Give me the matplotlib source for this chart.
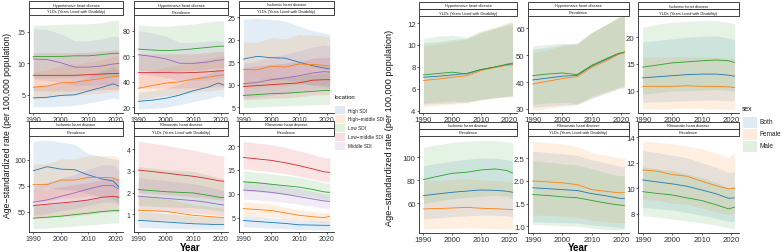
import matplotlib
matplotlib.use("Agg")
import matplotlib.pyplot as plt
from matplotlib.patches import Rectangle

plt.rcParams['font.family'] = ['Liberation Sans', 'DejaVu Sans']

W, H = 782, 253

years = [1990, 1995, 2000, 2005, 2010, 2015, 2019, 2021]
locations = ["High SDI", "High\u2212middle SDI", "Low SDI", "Low\u2212middle SDI", "Middle SDI"]
sexes = ["Both", "Female", "Male"]
loc_colors = ["#1f77b4", "#ff7f0e", "#2ca02c", "#d62728", "#9467bd"]
sex_colors = ["#1f77b4", "#ff7f0e", "#2ca02c"]

causes = ["Hypertensive heart disease", "Hypertensive heart disease", "Ischemic heart disease",
          "Ischemic heart disease", "Rheumatic heart disease", "Rheumatic heart disease"]
measures = ["YLDs (Years Lived with Disability)", "Prevalence", "YLDs (Years Lived with Disability)",
            "Prevalence", "YLDs (Years Lived with Disability)", "Prevalence"]

# ---------------- location group (High, High-middle, Low, Low-middle, Middle) ----------------
loc_hhd_yld_val = [[4.5, 4.6, 4.9, 5.0, 5.6, 6.2, 6.75, 6.4],
                   [6.2, 6.4, 6.9, 7.0, 7.3, 7.6, 7.9, 8.0],
                   [11.1, 11.1, 11.1, 11.2, 11.2, 11.4, 11.6, 11.6],
                   [8.1, 8.1, 8.1, 8.1, 8.2, 8.3, 8.4, 8.4],
                   [10.7, 10.6, 10.1, 9.4, 9.4, 9.6, 9.9, 10.0]]
loc_hhd_yld_lo = [[3.1, 3.1, 3.2, 3.3, 3.7, 4.1, 4.5, 4.3],
                  [4.3, 4.5, 4.8, 4.9, 5.1, 5.3, 5.5, 5.6],
                  [7.7, 7.7, 7.7, 7.8, 7.8, 7.9, 8.0, 8.0],
                  [5.6, 5.6, 5.6, 5.6, 5.7, 5.8, 5.9, 5.9],
                  [7.4, 7.3, 7.0, 6.5, 6.5, 6.6, 6.8, 6.9]]
loc_hhd_yld_hi = [[6.4, 6.5, 6.9, 7.1, 7.9, 8.8, 9.5, 9.0],
                  [8.7, 9.0, 9.7, 9.8, 10.2, 10.6, 11.1, 11.2],
                  [16.1, 16.1, 16.2, 16.3, 16.3, 16.5, 16.8, 16.8],
                  [11.7, 11.7, 11.7, 11.7, 11.8, 12.0, 12.1, 12.1],
                  [15.5, 15.4, 14.7, 13.6, 13.6, 13.9, 14.3, 14.2]]

loc_hhd_prev_val = [[24.6, 25.5, 27.0, 29.5, 33.0, 35.5, 39.0, 37.5],
                    [34.9, 37.0, 39.0, 40.0, 42.2, 43.5, 45.0, 45.4],
                    [65.8, 65.0, 64.5, 65.0, 66.0, 67.0, 68.0, 68.0],
                    [47.2, 47.2, 47.2, 47.0, 47.3, 47.8, 48.5, 48.7],
                    [61.3, 60.0, 58.0, 54.6, 54.5, 55.5, 57.0, 57.4]]
loc_hhd_prev_lo = [[18.5, 19.0, 20.0, 22.0, 24.5, 26.5, 29.0, 28.0],
                   [26.0, 27.5, 29.0, 30.0, 31.5, 32.5, 33.5, 34.0],
                   [49.0, 48.5, 48.0, 48.5, 49.0, 50.0, 51.0, 51.0],
                   [35.0, 35.0, 35.0, 35.0, 35.0, 35.5, 36.0, 36.0],
                   [46.0, 45.0, 43.5, 41.0, 41.0, 41.5, 42.5, 43.0]]
loc_hhd_prev_hi = [[32.0, 33.0, 35.0, 38.0, 43.0, 46.0, 50.0, 49.0],
                   [46.0, 49.0, 52.0, 53.0, 56.0, 58.0, 60.0, 60.5],
                   [84.7, 84.0, 83.5, 84.5, 85.5, 87.0, 88.0, 88.1],
                   [62.0, 62.0, 62.0, 62.0, 62.0, 63.0, 64.0, 64.0],
                   [80.2, 78.5, 76.0, 71.0, 71.0, 72.0, 72.5, 72.0]]

loc_ihd_yld_val = [[15.7, 16.3, 16.0, 15.9, 15.0, 14.2, 13.7, 13.5],
                   [13.4, 13.3, 14.1, 13.9, 14.6, 14.5, 14.3, 14.1],
                   [7.6, 7.8, 8.0, 8.1, 8.3, 8.5, 8.7, 8.7],
                   [9.6, 9.8, 10.0, 10.2, 10.4, 11.0, 11.1, 11.1],
                   [10.2, 10.5, 11.1, 11.5, 12.0, 12.6, 12.9, 12.8]]
loc_ihd_yld_lo = [[11.0, 11.4, 11.2, 11.1, 10.5, 9.9, 9.6, 9.4],
                  [9.3, 9.2, 9.8, 9.6, 10.1, 10.0, 9.9, 9.8],
                  [4.9, 5.0, 5.2, 5.3, 5.4, 5.5, 5.6, 5.6],
                  [6.7, 6.8, 7.0, 7.1, 7.3, 7.7, 7.8, 7.8],
                  [7.1, 7.3, 7.7, 8.0, 8.4, 8.8, 9.0, 8.9]]
loc_ihd_yld_hi = [[24.5, 24.8, 24.5, 24.2, 23.0, 22.0, 21.5, 21.2],
                  [19.5, 19.4, 20.5, 20.2, 21.2, 21.0, 20.8, 20.5],
                  [11.0, 11.3, 11.6, 11.7, 12.0, 12.3, 12.6, 12.6],
                  [13.9, 14.2, 14.5, 14.8, 15.1, 15.9, 16.1, 16.1],
                  [14.8, 15.3, 16.2, 16.8, 17.5, 18.4, 18.8, 18.6]]

loc_ihd_prev_val = [[89.4, 93.3, 91.0, 90.4, 85.3, 81.4, 79.5, 74.0],
                    [76.0, 76.0, 80.4, 80.4, 83.0, 83.0, 82.4, 80.4],
                    [43.6, 44.5, 45.5, 47.0, 48.4, 50.0, 50.8, 51.0],
                    [55.8, 57.0, 58.3, 59.5, 61.2, 63.8, 64.7, 63.8],
                    [59.0, 61.2, 64.7, 68.0, 71.8, 75.0, 75.0, 71.8]]
loc_ihd_prev_lo = [[70.0, 73.0, 71.0, 71.0, 67.0, 64.0, 62.0, 58.0],
                   [60.0, 60.0, 63.0, 63.0, 65.0, 65.0, 65.0, 63.0],
                   [33.3, 34.0, 35.0, 36.0, 37.0, 38.0, 39.0, 39.0],
                   [43.0, 44.0, 45.0, 46.0, 47.0, 49.0, 50.0, 49.0],
                   [46.0, 48.0, 51.0, 53.0, 56.0, 59.0, 59.0, 56.0]]
loc_ihd_prev_hi = [[118.0, 119.0, 117.0, 115.0, 106.0, 103.0, 101.0, 100.0],
                   [96.0, 96.0, 101.0, 101.0, 104.0, 104.0, 104.0, 102.0],
                   [56.0, 57.0, 58.0, 60.0, 62.0, 64.0, 65.0, 65.0],
                   [71.0, 72.0, 74.0, 76.0, 78.0, 81.0, 82.0, 81.0],
                   [75.0, 78.0, 82.0, 86.0, 91.0, 95.0, 95.0, 91.0]]

loc_rhd_yld_val = [[0.72, 0.68, 0.64, 0.60, 0.56, 0.54, 0.52, 0.52],
                   [1.18, 1.16, 1.13, 1.04, 0.95, 0.90, 0.86, 0.84],
                   [2.14, 2.09, 2.04, 2.01, 1.98, 1.88, 1.79, 1.76],
                   [3.04, 2.97, 2.90, 2.82, 2.75, 2.65, 2.55, 2.52],
                   [1.83, 1.78, 1.73, 1.68, 1.63, 1.55, 1.46, 1.43]]
loc_rhd_yld_lo = [[0.40, 0.38, 0.36, 0.34, 0.32, 0.31, 0.30, 0.30],
                  [0.75, 0.74, 0.72, 0.66, 0.60, 0.57, 0.55, 0.54],
                  [1.40, 1.37, 1.34, 1.32, 1.30, 1.23, 1.17, 1.15],
                  [2.00, 1.95, 1.90, 1.85, 1.80, 1.74, 1.67, 1.65],
                  [1.20, 1.17, 1.13, 1.10, 1.07, 1.01, 0.95, 0.93]]
loc_rhd_yld_hi = [[1.15, 1.10, 1.03, 0.97, 0.91, 0.88, 0.85, 0.85],
                  [1.80, 1.77, 1.72, 1.59, 1.45, 1.38, 1.32, 1.29],
                  [3.20, 3.13, 3.06, 3.01, 2.97, 2.82, 2.69, 2.64],
                  [4.38, 4.28, 4.18, 4.06, 3.96, 3.82, 3.70, 3.69],
                  [2.70, 2.62, 2.55, 2.48, 2.40, 2.28, 2.15, 2.10]]

loc_rhd_prev_val = [[4.4, 4.2, 4.0, 3.8, 3.5, 3.45, 3.4, 3.4],
                    [6.9, 6.7, 6.5, 6.0, 5.5, 5.2, 5.0, 5.3],
                    [12.5, 12.3, 12.0, 11.7, 11.4, 10.9, 10.4, 10.3],
                    [17.6, 17.3, 17.0, 16.5, 15.9, 15.2, 14.6, 14.5],
                    [10.8, 10.6, 10.3, 9.9, 9.4, 8.9, 8.5, 8.4]]
loc_rhd_prev_lo = [[3.1, 2.95, 2.8, 2.7, 2.5, 2.45, 2.4, 2.4],
                   [5.5, 5.35, 5.2, 4.8, 4.4, 4.15, 4.0, 4.2],
                   [10.6, 10.4, 10.2, 9.9, 9.7, 9.3, 8.8, 8.7],
                   [15.2, 14.9, 14.6, 14.2, 13.7, 13.1, 12.6, 12.5],
                   [8.9, 8.7, 8.5, 8.2, 7.8, 7.4, 7.0, 6.9]]
loc_rhd_prev_hi = [[5.5, 5.3, 5.0, 4.8, 4.4, 4.35, 4.3, 4.3],
                   [8.3, 8.1, 7.8, 7.2, 6.6, 6.3, 6.0, 6.4],
                   [14.8, 14.5, 14.2, 13.8, 13.5, 12.9, 12.3, 12.2],
                   [21.0, 20.6, 20.3, 19.7, 19.0, 18.2, 17.5, 17.6],
                   [12.8, 12.6, 12.2, 11.7, 11.1, 10.5, 10.0, 9.9]]

# ---------------- sex group (Both, Female, Male) ----------------
sex_hhd_yld_val = [[7.06, 7.15, 7.27, 7.40, 7.76, 8.00, 8.20, 8.27],
                   [6.76, 6.90, 7.06, 7.20, 7.67, 7.95, 8.15, 8.18],
                   [7.27, 7.40, 7.52, 7.36, 7.76, 8.00, 8.25, 8.36]]
sex_hhd_yld_lo = [[4.60, 4.65, 4.70, 4.80, 5.00, 5.20, 5.30, 5.35],
                  [4.40, 4.50, 4.60, 4.70, 5.00, 5.15, 5.25, 5.30],
                  [4.70, 4.80, 4.90, 4.80, 5.05, 5.20, 5.35, 5.40]]
sex_hhd_yld_hi = [[10.2, 10.3, 10.5, 10.6, 11.1, 11.5, 11.8, 11.9],
                  [9.9, 10.1, 10.3, 10.5, 11.2, 11.6, 11.9, 12.0],
                  [10.6, 10.8, 10.9, 10.7, 11.3, 11.6, 12.0, 12.2]]

sex_hhd_prev_val = [[40.8, 41.5, 42.2, 42.5, 46.0, 48.5, 50.5, 51.0],
                    [39.3, 40.3, 41.3, 42.0, 45.5, 48.0, 50.3, 51.0],
                    [42.4, 43.0, 43.4, 42.8, 46.3, 48.8, 50.7, 51.2]]
sex_hhd_prev_lo = [[30.6, 31.0, 31.5, 31.7, 34.0, 36.0, 37.5, 38.0],
                   [29.5, 30.2, 31.0, 31.5, 34.0, 36.0, 37.7, 38.2],
                   [31.8, 32.2, 32.5, 32.0, 34.7, 36.6, 38.0, 38.4]]
sex_hhd_prev_hi = [[52.3, 53.0, 54.0, 54.5, 58.5, 61.5, 64.0, 64.5],
                   [51.0, 52.0, 53.5, 54.5, 58.5, 61.5, 64.5, 65.0],
                   [53.5, 54.0, 54.5, 54.0, 58.5, 61.5, 64.0, 64.5]]

sex_ihd_yld_val = [[12.4, 12.6, 12.8, 13.0, 13.1, 13.1, 12.9, 12.7],
                   [10.8, 10.8, 10.8, 10.9, 10.8, 10.8, 10.7, 10.6],
                   [14.4, 14.8, 15.2, 15.4, 15.6, 15.75, 15.6, 15.3]]
sex_ihd_yld_lo = [[7.8, 7.9, 8.0, 8.1, 8.2, 8.2, 8.1, 8.0],
                  [6.6, 6.6, 6.6, 6.7, 6.6, 6.6, 6.5, 6.5],
                  [9.4, 9.6, 9.9, 10.0, 10.1, 10.2, 10.1, 9.9]]
sex_ihd_yld_hi = [[19.1, 19.4, 19.7, 20.0, 20.2, 20.2, 19.9, 19.6],
                  [16.3, 16.3, 16.3, 16.4, 16.3, 16.3, 16.1, 16.0],
                  [21.9, 22.5, 22.8, 23.0, 23.1, 23.1, 22.8, 22.5]]

sex_ihd_prev_val = [[66.7, 68.2, 69.6, 70.6, 71.6, 71.3, 70.5, 69.6],
                    [55.1, 55.5, 55.9, 56.5, 55.7, 55.3, 54.8, 54.5],
                    [80.6, 83.5, 86.1, 87.0, 89.0, 89.9, 88.5, 86.4]]
sex_ihd_prev_lo = [[46.4, 47.4, 48.4, 49.1, 49.8, 49.6, 49.0, 48.4],
                   [37.7, 38.0, 38.3, 38.7, 38.2, 37.9, 37.5, 37.3],
                   [60.0, 62.0, 64.0, 65.0, 66.0, 67.0, 66.0, 64.0]]
sex_ihd_prev_hi = [[92.8, 94.8, 96.8, 98.2, 99.6, 99.2, 98.1, 96.8],
                   [79.5, 80.0, 80.7, 81.5, 80.4, 79.8, 79.1, 78.7],
                   [108.7, 111.0, 113.0, 114.0, 114.5, 114.5, 113.5, 112.5]]

sex_rhd_yld_val = [[1.85, 1.83, 1.81, 1.79, 1.72, 1.67, 1.62, 1.61],
                   [2.00, 1.98, 1.96, 1.92, 1.81, 1.77, 1.74, 1.74],
                   [1.70, 1.68, 1.65, 1.63, 1.57, 1.51, 1.47, 1.46]]
sex_rhd_yld_lo = [[1.10, 1.09, 1.08, 1.07, 1.03, 1.00, 0.97, 0.96],
                  [1.25, 1.24, 1.22, 1.20, 1.13, 1.10, 1.08, 1.08],
                  [1.04, 1.03, 1.01, 1.00, 0.96, 0.93, 0.92, 0.93]]
sex_rhd_yld_hi = [[2.66, 2.63, 2.60, 2.57, 2.47, 2.40, 2.33, 2.31],
                  [2.88, 2.85, 2.82, 2.76, 2.62, 2.56, 2.52, 2.51],
                  [2.45, 2.42, 2.38, 2.35, 2.27, 2.18, 2.12, 2.11]]

sex_rhd_prev_val = [[10.66, 10.50, 10.35, 10.16, 9.87, 9.56, 9.22, 9.25],
                    [11.44, 11.34, 11.08, 10.95, 10.55, 10.20, 9.95, 10.00],
                    [9.74, 9.60, 9.48, 9.25, 9.04, 8.70, 8.39, 8.52]]
sex_rhd_prev_lo = [[8.50, 8.40, 8.30, 8.10, 7.90, 7.65, 7.40, 7.40],
                   [9.15, 9.05, 8.85, 8.75, 8.45, 8.15, 7.95, 8.00],
                   [7.86, 7.75, 7.60, 7.45, 7.30, 7.10, 6.90, 6.80]]
sex_rhd_prev_hi = [[12.96, 12.80, 12.60, 12.40, 12.00, 11.65, 11.25, 11.30],
                   [13.74, 13.60, 13.48, 13.30, 13.10, 12.75, 12.40, 12.80],
                   [11.70, 11.50, 11.40, 11.10, 10.85, 10.45, 10.05, 10.20]]

loc_val = [loc_hhd_yld_val, loc_hhd_prev_val, loc_ihd_yld_val, loc_ihd_prev_val, loc_rhd_yld_val, loc_rhd_prev_val]
loc_lo = [loc_hhd_yld_lo, loc_hhd_prev_lo, loc_ihd_yld_lo, loc_ihd_prev_lo, loc_rhd_yld_lo, loc_rhd_prev_lo]
loc_hi = [loc_hhd_yld_hi, loc_hhd_prev_hi, loc_ihd_yld_hi, loc_ihd_prev_hi, loc_rhd_yld_hi, loc_rhd_prev_hi]
sex_val = [sex_hhd_yld_val, sex_hhd_prev_val, sex_ihd_yld_val, sex_ihd_prev_val, sex_rhd_yld_val, sex_rhd_prev_val]
sex_lo = [sex_hhd_yld_lo, sex_hhd_prev_lo, sex_ihd_yld_lo, sex_ihd_prev_lo, sex_rhd_yld_lo, sex_rhd_prev_lo]
sex_hi = [sex_hhd_yld_hi, sex_hhd_prev_hi, sex_ihd_yld_hi, sex_ihd_prev_hi, sex_rhd_yld_hi, sex_rhd_prev_hi]

loc_yticks = [[5, 10, 15], [20, 40, 60, 80], [5, 10, 15, 20, 25], [50, 75, 100], [1, 2, 3, 4], [5, 10, 15, 20]]
loc_ylims = [(2.1, 17.7), (15.4, 92.6), (3.7, 25.5), (30.2, 123), (0.18, 4.61), (2.0, 22.1)]
sex_yticks = [[4, 6, 8, 10, 12], [30, 40, 50, 60], [10, 15, 20], [60, 80, 100], [1.0, 1.5, 2.0, 2.5], [8, 10, 12, 14]]
sex_ylims = [(3.8, 12.64), (28.5, 64.6), (5.8, 24), (34.2, 118.5), (0.85, 2.995), (6.5, 14.1)]
xticks = [1990, 2000, 2010, 2020]

fig = plt.figure(figsize=(W / 100, H / 100), dpi=100)

def frect(x0, y0, x1, y1):
    return [x0 / W, 1 - y1 / H, (x1 - x0) / W, (y1 - y0) / H]

def strip(x0, y0, x1, y1, text, fs):
    fig.add_artist(Rectangle((x0 / W, 1 - y1 / H), (x1 - x0) / W, (y1 - y0) / H,
                             transform=fig.transFigure, fc='white', ec='#222222', lw=0.6))
    fig.text((x0 + x1) / 2 / W, 1 - (y0 + y1) / 2 / H, text, ha='center', va='center',
             fontsize=fs, color='#1a1a1a')

def draw_group(cols, rows, vals, los, his, colors, ylims, yticks, tick_fs, alpha, fmt=None):
    for i in range(6):
        r, c = divmod(i, 3)
        x0, x1 = cols[c]
        s0, s1, a0, a1 = rows[r]
        strip(x0, s0, x1, s1, causes[i], 2.8)
        strip(x0, s1, x1, a0, measures[i], 2.8)
        ax = fig.add_axes(frect(x0, a0, x1, a1))
        for k in range(len(vals[i])):
            ax.fill_between(years, los[i][k], his[i][k], color=colors[k], alpha=alpha, lw=0)
        for k in range(len(vals[i])):
            ax.plot(years, vals[i][k], color=colors[k], lw=0.6)
        ax.set_xlim(1988.45, 2022.55)
        ax.set_ylim(*ylims[i])
        ax.set_xticks(xticks)
        ax.set_yticks(yticks[i])
        if fmt is not None and i == 4:
            ax.set_yticklabels([f"{v:.1f}" for v in yticks[i]])
        for sp in ['top', 'right']:
            ax.spines[sp].set_visible(False)
        for sp in ['left', 'bottom']:
            ax.spines[sp].set_linewidth(0.6)
            ax.spines[sp].set_color('#222222')
        ax.tick_params(length=1.6, width=0.5, pad=0.8, labelsize=tick_fs, colors='#222222',
                       labelcolor='#333333')
        ax.patch.set_alpha(0)

L_cols = [(29, 123), (134, 228), (239, 334)]
L_rows = [(2, 9, 16, 114), (122, 129, 137, 233)]
R_cols = [(419, 517), (528, 629), (638, 739)]
R_rows = [(3, 10, 17, 114), (123, 130, 137, 234)]

draw_group(L_cols, L_rows, loc_val, loc_lo, loc_hi, loc_colors, loc_ylims, loc_yticks, 5.0, 0.13)
draw_group(R_cols, R_rows, sex_val, sex_lo, sex_hi, sex_colors, sex_ylims, sex_yticks, 5.6, 0.12, fmt=True)

ylab = "Age\u2212standardized rate (per 100,000 population)"
fig.text(8 / W, 1 - 125 / H, ylab, rotation=90, ha='center', va='center', fontsize=6.2, color='#111111')
fig.text(390 / W, 1 - 128 / H, ylab, rotation=90, ha='center', va='center', fontsize=6.6, color='#111111')
fig.text(190 / W, 1 - 248 / H, "Year", ha='center', va='center', fontsize=7, fontweight='bold')
fig.text(578 / W, 1 - 248 / H, "Year", ha='center', va='center', fontsize=7, fontweight='bold')

# legends
fig.text(335 / W, 1 - 98 / H, "location", ha='left', va='center', fontsize=4.3, color='#111111')
for k, name in enumerate(locations):
    yc = 111 + 9 * k
    fig.add_artist(Rectangle((335 / W, 1 - (yc + 4) / H), 10 / W, 8 / H, transform=fig.transFigure,
                             fc=loc_colors[k], alpha=0.15, lw=0))
    fig.text(347.5 / W, 1 - yc / H, name, ha='left', va='center', fontsize=3.4, color='#222222')

fig.text(742 / W, 1 - 110 / H, "sex", ha='left', va='center', fontsize=4.9, color='#111111')
for k, name in enumerate(sexes):
    yc = 123 + 12 * k
    fig.add_artist(Rectangle((743 / W, 1 - (yc + 5.5) / H), 14 / W, 11 / H, transform=fig.transFigure,
                             fc=sex_colors[k], alpha=0.15, lw=0))
    fig.text(759.5 / W, 1 - yc / H, name, ha='left', va='center', fontsize=4.7, color='#222222')

fig.savefig("out.png", dpi=100)
